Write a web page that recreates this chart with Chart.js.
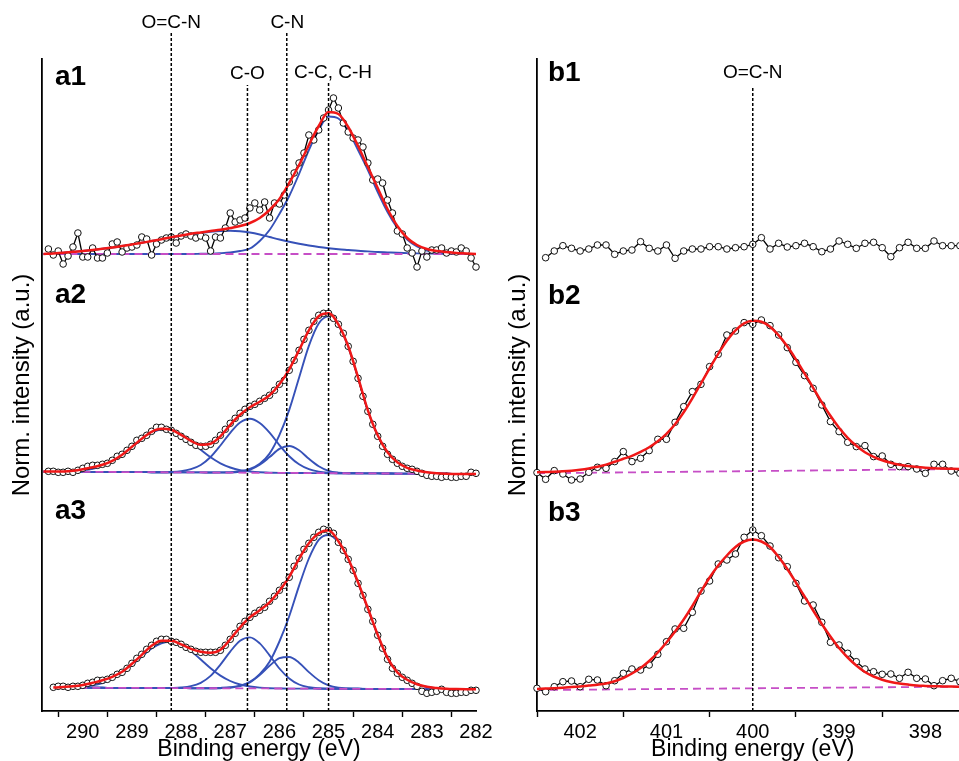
<!DOCTYPE html>
<html>
<head>
<meta charset="utf-8">
<script src="https://cdn.jsdelivr.net/npm/chart.js@4.4.1/dist/chart.umd.min.js"></script>
<style>
  html, body { margin: 0; padding: 0; background: #fff; overflow: hidden; width: 959px; height: 761px; }
  #wrapA { position: absolute; left: 0; top: 0; width: 500px; height: 761px; }
  #wrapB { position: absolute; left: 490px; top: 0; width: 490px; height: 761px; }
</style>
</head>
<body>
<div id="wrapA"><canvas id="chartA"></canvas></div>
<div id="wrapB"><canvas id="chartB"></canvas></div>
<script>
const FONT = "'Liberation Sans', Arial, sans-serif";

// ---- C 1s (panel a) ----
// binding energies of the measured points (eV)
const energyC = [290.7,290.6,290.5,290.4,290.3,290.2,290.1,290.0,289.9,289.8,289.7,289.6,289.5,289.4,289.3,289.2,289.1,289.0,
  288.9,288.8,288.7,288.6,288.5,288.4,288.3,288.2,288.1,288.0,287.9,287.8,287.7,287.6,287.5,287.4,287.3,287.2,287.1,287.0,
  286.9,286.8,286.7,286.6,286.5,286.4,286.3,286.2,286.1,286.0,285.9,285.8,285.7,285.6,285.5,285.4,285.3,285.2,285.1,285.0,
  284.9,284.8,284.7,284.6,284.5,284.4,284.3,284.2,284.1,284.0,283.9,283.8,283.7,283.6,283.5,283.4,283.3,283.2,283.1,283.0,
  282.9,282.8,282.7,282.6,282.5,282.4,282.3,282.2,282.1,282.0];
// energies where the fitted curves are given
const fitC = [290.8,290.6,290.4,290.2,290.0,289.8,289.6,289.4,289.2,289.0,288.8,288.6,288.4,288.2,288.0,287.8,287.6,287.4,
  287.2,287.0,286.8,286.6,286.4,286.2,286.0,285.8,285.6,285.4,285.2,285.0,284.8,284.6,284.4,284.2,284.0,283.8,283.6,283.4,
  283.2,283.0,282.8,282.6,282.4,282.2,282.0];

const a1Data = [5,-1,3,-10,-2,7,21,-3,-3,6, -4,-4,1,10,12,2,6,7,9,17, 15,-1,10,14,16,17,11,18,20,18,
  16,18,16,3,17,16,26,41,32,34, 36,46,51,44,52,36,51,50,59,72, 81,91,101,119,114,124,136,144,156,146,
  131,122,116,114,107,91,74,75,71,54, 41,23,20,6,1,-13,3,-3,4,4, 6,1,3,2,6,3,-4,-13];
const a1Fit = [0,0.5,1.2,2.2,3,4,5.2,6.5,8,9.6, 11.2,13,14.8,16.8,18.5,20.2,21.6,23,24.3,26,
  28,31,36,44,55,71,89,109,128,142, 140,127,108,87,66,45,28,16,9,5, 3,2,1,0.5,0];
const a1Comp1 = [0,0.5,1.2,2.2,3,4,5.2,6.5,8,9.6, 11.2,13,14.7,16.5,18,19.6,21,22.2,23,23.2,
  22.8,21.5,19.5,17,14.5,12.2,10.2,8.5,7,5.8, 4.8,4,3.2,2.6,2,1.6,1.2,0.9,0.6,0.4, 0.3,0.2,0.1,0,0];
const a1Comp2 = [0,0,0,0,0,0,0,0,0,0, 0,0,0,0,0,0,0.2,0.4,0.8,1.5,
  3,5.5,13,24,40,58,80,104,124,137.5, 135.5,123,104,84,62,42,26,14.5,7.5,3.5, 1.5,0.6,0.2,0,0];
const a1BaseE = [290.8, 282.0];
const a1Base = [0, 0];

const a2Data = [1,1,0,0,1,0,2,4,6,7, 7,8,9,12,16,18,22,26,32,34, 37,41,45,45,43,42,39,36,33,30,
  27,26,26,28,32,37,43,49,54,59, 63,66,68,71,74,77,82,88,92,102, 112,122,133,142,151,157,159,159,154,148,
  139,126,111,94,76,61,48,36,26,18, 13,9,6,4,3,1,-1,-3,-4,-4, -5,-4,-5,-5,-4,-4,0,-1];
const a2Fit = [0.7,0.7,0.8,1.5,3,5,7.5,11.5,17.5,25.5, 33.5,40.5,43.5,42.5,37.5,31.5,27.5,28.5,36,47.5,
  57.5,65,70.5,77,88,103,122,142,156,159, 148,126,95,62,37,20,10,4.5,1.8,0, -1,-1.5,-1.6,-1.7,-1.7];
const a2Comp1 = [0.7,0.6,0.8,1.1,2.0,3.5,6.5,11.1,17.4,25.1, 32.9,39.4,42.8,42.1,37.8,30.6,22.6,15.0,9.0,4.8,
  2.1,0.8,0,-0.3,-0.6,-0.7,-0.7,-0.8,-0.8,-0.9, -0.9,-1.0,-1.0,-1.1,-1.1,-1.2,-1.3,-1.3,-1.4,-1.4, -1.5,-1.5,-1.6,-1.6,-1.7];
const a2Comp2 = [0.7,0.6,0.6,0.5,0.5,0.4,0.4,0.3,0.3,0.2, 0.2,0.1,0.1,0.3,1.1,3.1,7.3,15.3,26.8,39.5,
  49.8,53.6,49.3,39.7,27.2,16.1,8.0,3.1,0.7,-0.4, -0.9,-1.0,-1.0,-1.1,-1.1,-1.2,-1.3,-1.3,-1.4,-1.4, -1.5,-1.5,-1.6,-1.6,-1.7];
const a2Comp3 = [0.7,0.6,0.6,0.5,0.5,0.4,0.4,0.3,0.3,0.2, 0.2,0.1,0.1,0,0,-0.1,-0.1,-0.2,-0.2,-0.3,
  0.4,2.5,7.5,15.2,23.4,26.3,22.1,13.5,6.1,1.5, -0.3,-0.9,-1.0,-1.1,-1.1,-1.2,-1.3,-1.3,-1.4,-1.4, -1.5,-1.5,-1.6,-1.6,-1.7];
const a2Comp4 = [0.7,0.6,0.6,0.5,0.5,0.4,0.4,0.3,0.3,0.2, 0.2,0.1,0.1,0,0,-0.1,-0.1,-0.2,-0.1,0.1,
  1.0,3.3,8.5,18.7,37.1,62.4,94.5,126.4,148.8,155.9, 147,125.5,94.5,61.5,36.8,19.8,9.8,4.3,1.6,-0.2, -1.1,-1.5,-1.6,-1.7,-1.7];
const a2BaseE = [290.8, 282.0];
const a2Base = [0.7, -1.7];

const a3Data = [null,1,2,2,1,2,2,3,5,6, 8,8,9,11,14,16,20,25,30,34, 39,43,47,49,49,47,46,44,41,39,
  37,36,36,36,36,38,43,49,55,62, 67,71,75,78,81,87,92,98,103,111, 122,130,139,145,151,156,159,158,155,146,
  138,129,118,105,93,79,67,53,40,29, 20,15,11,8,5,2,-3,-5,-4,-3, -1,-4,-5,-5,-4,-4,-2,-2];
const a3Fit = [null,0.7,1.3,2.0,3.3,5.5,8.0,11.5,16.5,24.5, 33.5,42.5,47.5,47.5,44,39.5,36.5,35.5,38.5,49,
  61,71,78,86,97.5,111.5,129.5,145,155,158, 147,129.5,106,80,53.5,30.5,16,8.5,4,1.5, 0.3,-0.4,-0.7,-0.9,-1.0];
const a3Comp1 = [null,0.7,0.8,1.0,1.6,2.9,5.3,9.4,15.5,23.2, 31.8,39.8,45.0,46.5,43.7,37.2,28.8,20.1,12.7,7.3,
  3.8,1.8,0.7,0.1,-0.1,-0.3,-0.3,-0.3,-0.4,-0.4, -0.5,-0.5,-0.5,-0.6,-0.6,-0.6,-0.7,-0.7,-0.8,-0.8, -0.8,-0.9,-0.9,-1.0,-1.0];
const a3Comp2 = [null,0.7,0.6,0.6,0.5,0.5,0.5,0.4,0.4,0.3, 0.3,0.3,0.2,0.4,0.8,2.1,5.5,12.4,23.7,36.7,
  47.5,50.9,44.9,33.0,19.8,9.9,3.8,1.1,0,-0.4, -0.5,-0.5,-0.5,-0.6,-0.6,-0.6,-0.7,-0.7,-0.8,-0.8, -0.8,-0.9,-0.9,-1.0,-1.0];
const a3Comp3 = [null,0.7,0.6,0.6,0.5,0.5,0.5,0.4,0.4,0.3, 0.3,0.3,0.2,0.2,0.2,0.1,0.1,0,0.1,0.6,
  2.2,6.0,13.3,22.5,30.1,31.3,25.6,16.2,8.1,2.9, 0.5,-0.2,-0.5,-0.6,-0.6,-0.6,-0.7,-0.7,-0.8,-0.8, -0.8,-0.9,-0.9,-1.0,-1.0];
const a3Comp4 = [null,0.7,0.6,0.6,0.5,0.5,0.5,0.4,0.4,0.3, 0.3,0.3,0.2,0.2,0.2,0.1,0.1,0,0.4,1.1,
  2.7,6.5,14.2,26.6,46.8,72.1,102.4,129.8,148.5,153.3, 146,129,105.5,79.5,53,30.3,16,8.3,3.8,1.3, 0.1,-0.6,-0.9,-1.0,-1.0];
const a3BaseE = [290.6, 282.0];
const a3Base = [0.7, -1.0];

// vertical offsets of the stacked spectra a1, a2, a3
const stackA = [457, 238.7, 22.7];
const panelNamesA = ['a1', 'a2', 'a3'];

// peak assignments, panel a
const peaksA = [288.2, 286.65, 285.85, 285.0];
const peakNamesA = ['O=C-N', 'C-O', 'C-N', 'C-C, C-H'];
const peakTopA = [678, 626, 679, 628];
const peakLabelXA = [288.2, 286.65, 285.84, 284.91];
const peakLabelYA = [688.5, 637, 688.5, 638];

// ---- N 1s (panel b) ----
const energyN = [402.5,402.4,402.3,402.2,402.1,402.0,401.9,401.8,401.7,401.6,401.5,401.4,401.3,401.2,401.1,401.0,
  400.9,400.8,400.7,400.6,400.5,400.4,400.3,400.2,400.1,400.0,399.9,399.8,399.7,399.6,399.5,399.4,399.3,399.2,399.1,399.0,
  398.9,398.8,398.7,398.6,398.5,398.4,398.3,398.2,398.1,398.0,397.9,397.8,397.7,397.6];

const b1Data = [null,-7.7,-1,4.3,1.7,-1,1,5,5,-4.3, -1,0,8.3,1.7,-1,5,-8.3,-1,1,1,
  3.3,3.3,1,2.3,3.3,5.7,12.3,1,6.7,3, 4.3,6.7,3.3,-1.7,1,9,5.7,1.7,6.7,7.7, 2.3,-6.7,2.3,7.7,1.7,1.7,9,4.3,4.3,4.3];

const b2Data = [0.7,-6,2.7,-0.7,-6.7,-5.7,1,6,5,11.7, 21.7,11.7,15,22.7,34,34,51,66.7,81.7,89,
  106.7,119,138.3,142.3,150.7,149,153.3,147.7,138.3,125.7, 111,97.7,85,68.3,51.7,41.7,31,26.7,27.7,16.7,
  17.3,9,6.7,6.7,4.3,0,9,9,2.3,0];
const b2Fit = [1,1.3,1.6,2.0,2.6,3.5,4.8,6.5,8.7,11.5, 14.5,17.5,21.5,26,32,39.5,49,61,75,90,
  105,119.5,132.5,143,150,152.5,151.5,146.5,138,127, 114,100,85.5,71,57.5,45.5,35.5,27.5,21,16.5,
  13,10.5,8.5,7.2,6.2,5.5,5.0,4.7,4.5,4.3];
const b2BaseE = [402.5, 397.5];
const b2Base = [0, 4.4];

const b3Data = [1.7,-1.7,3.3,8.3,9,3.3,10.7,10,4.3,9.3, 16.7,21,20,25,35.7,48.3,61,61.7,77.7,99,
  109,126,130,136,152.7,160,154.3,144,132.3,123.3, 106.7,89,85,67.7,47.7,45,36.7,28.3,21,18.3,
  15.7,16,11.7,17.7,11.7,11,4.3,9.3,11.7,8.3];
const b3Fit = [1,1.4,1.8,2.3,2.9,3.6,4.5,5.3,6.5,8.8, 12,16.5,22,29,37.5,47.5,58.5,70.5,84,98.5,
  112.5,124.5,134.5,143,148.5,150.5,148.5,143,133,121, 107.5,93.5,79.5,66,53.5,42,32.5,24.5,18,13.5,
  10.3,8,6.5,5.4,4.5,4.1,3.8,3.6,3.4,3.3];
const b3BaseE = [402.5, 397.5];
const b3Base = [0, 3.4];

const stackB = [461, 237.7, 21];
const panelNamesB = ['b1', 'b2', 'b3'];

const peaksB = [400.0];
const peakNamesB = ['O=C-N'];
const peakTopB = [624];
const peakLabelXB = [400.0];
const peakLabelYB = [638.5];

// ---- helpers ----
function pts(xs, ys, off) {
  const out = [];
  xs.forEach(function (x, i) {
    if (ys[i] !== null && ys[i] !== undefined) out.push({ x: x, y: ys[i] + off });
  });
  return out;
}

function dataSet(xs, ys, off) {
  return { data: pts(xs, ys, off), borderColor: '#000', borderWidth: 1.3, pointRadius: 3.3,
    pointBackgroundColor: '#fff', pointBorderColor: '#111', pointBorderWidth: 1, order: 2, clip: 6 };
}
function fitSet(xs, ys, off) {
  return { data: pts(xs, ys, off), borderColor: '#f01818', borderWidth: 2.5, pointRadius: 0,
    cubicInterpolationMode: 'monotone', order: 1 };
}
function compSet(xs, ys, off) {
  return { data: pts(xs, ys, off), borderColor: '#3651b8', borderWidth: 1.9, pointRadius: 0,
    cubicInterpolationMode: 'monotone', order: 4 };
}
function baseSet(xs, ys, off) {
  return { data: pts(xs, ys, off), borderColor: '#c64ec6', borderWidth: 1.8, borderDash: [8, 5],
    pointRadius: 0, order: 3 };
}
function markerSets(energies, tops) {
  return energies.map(function (e, i) {
    return { data: [{ x: e, y: 0 }, { x: e, y: tops[i] }], borderColor: '#000', borderWidth: 1.5,
      borderDash: [3, 2], pointRadius: 0, clip: false, order: 0 };
  });
}

function labelPlugin(names, lx, ly, panels, offsets, dx) {
  return {
    id: 'textLabels',
    afterDatasetsDraw: function (chart) {
      const ctx = chart.ctx, x = chart.scales.x, y = chart.scales.y, area = chart.chartArea;
      ctx.save();
      ctx.fillStyle = '#000';
      ctx.textAlign = 'center';
      ctx.textBaseline = 'middle';
      ctx.font = '19px ' + FONT;
      names.forEach(function (n, i) {
        ctx.fillText(n, x.getPixelForValue(lx[i]), y.getPixelForValue(ly[i]));
      });
      ctx.textAlign = 'left';
      ctx.font = 'bold 28px ' + FONT;
      panels.forEach(function (p, i) {
        ctx.fillText(p, area.left + dx, y.getPixelForValue(offsets[i] + 177));
      });
      ctx.restore();
    }
  };
}

function isWhole(v) { return Math.abs(v - Math.round(v)) < 1e-6; }

function makeOptions(xmin, xmax, padRight, yWidth, titlePad) {
  return {
    responsive: true,
    maintainAspectRatio: false,
    animation: false,
    layout: { padding: { top: 59, right: padRight, left: 0, bottom: 0 } },
    plugins: { legend: { display: false }, tooltip: { enabled: false } },
    scales: {
      x: {
        type: 'linear', reverse: true, min: xmin, max: xmax,
        border: { display: true, color: '#000', width: 1.8 },
        grid: {
          display: true, drawOnChartArea: false, drawTicks: true, tickLength: 6, tickWidth: 1.4,
          tickColor: function (c) { return (c.tick && !isWhole(c.tick.value)) ? '#000' : 'rgba(0,0,0,0)'; }
        },
        ticks: {
          stepSize: 0.5, autoSkip: false, includeBounds: false, maxRotation: 0, padding: 3,
          color: '#000', font: { family: FONT, size: 20 },
          callback: function (v) { return isWhole(v) ? String(Math.round(v)) : ''; }
        },
        title: { display: true, text: 'Binding energy (eV)', color: '#000',
          font: { family: FONT, size: 23, lineHeight: 1 }, padding: 0 },
        afterFit: function (s) { s.height = 50; }
      },
      y: {
        min: 0, max: 652,
        border: { display: true, color: '#000', width: 1.8 },
        grid: { display: true, drawOnChartArea: false, drawTicks: false },
        ticks: { display: false },
        title: { display: true, text: 'Norm. intensity (a.u.)', color: '#000',
          font: { family: FONT, size: 24, lineHeight: 1 }, padding: { top: titlePad, bottom: 0 } },
        afterFit: function (s) { s.width = yWidth; }
      }
    }
  };
}

// ---- panel a ----
const setsA = [].concat(
  markerSets(peaksA, peakTopA),
  [fitSet(fitC, a1Fit, stackA[0]), compSet(fitC, a1Comp1, stackA[0]), compSet(fitC, a1Comp2, stackA[0]),
   baseSet(a1BaseE, a1Base, stackA[0]), dataSet(energyC, a1Data, stackA[0])],
  [fitSet(fitC, a2Fit, stackA[1]), compSet(fitC, a2Comp1, stackA[1]), compSet(fitC, a2Comp2, stackA[1]),
   compSet(fitC, a2Comp3, stackA[1]), compSet(fitC, a2Comp4, stackA[1]),
   baseSet(a2BaseE, a2Base, stackA[1]), dataSet(energyC, a2Data, stackA[1])],
  [fitSet(fitC, a3Fit, stackA[2]), compSet(fitC, a3Comp1, stackA[2]), compSet(fitC, a3Comp2, stackA[2]),
   compSet(fitC, a3Comp3, stackA[2]), compSet(fitC, a3Comp4, stackA[2]),
   baseSet(a3BaseE, a3Base, stackA[2]), dataSet(energyC, a3Data, stackA[2])]
);

new Chart(document.getElementById('chartA'), {
  type: 'line',
  data: { datasets: setsA },
  options: makeOptions(282.0, 290.83, 24, 42, 10),
  plugins: [labelPlugin(peakNamesA, peakLabelXA, peakLabelYA, panelNamesA, stackA, 13)]
});

// ---- panel b ----
const setsB = [].concat(
  markerSets(peaksB, peakTopB),
  [dataSet(energyN, b1Data, stackB[0])],
  [fitSet(energyN, b2Fit, stackB[1]), baseSet(b2BaseE, b2Base, stackB[1]), dataSet(energyN, b2Data, stackB[1])],
  [fitSet(energyN, b3Fit, stackB[2]), baseSet(b3BaseE, b3Base, stackB[2]), dataSet(energyN, b3Data, stackB[2])]
);

new Chart(document.getElementById('chartB'), {
  type: 'line',
  data: { datasets: setsB },
  options: makeOptions(397.5, 402.5, 11.5, 47, 16),
  plugins: [labelPlugin(peakNamesB, peakLabelXB, peakLabelYB, panelNamesB, stackB, 11)]
});
</script>
</body>
</html>
